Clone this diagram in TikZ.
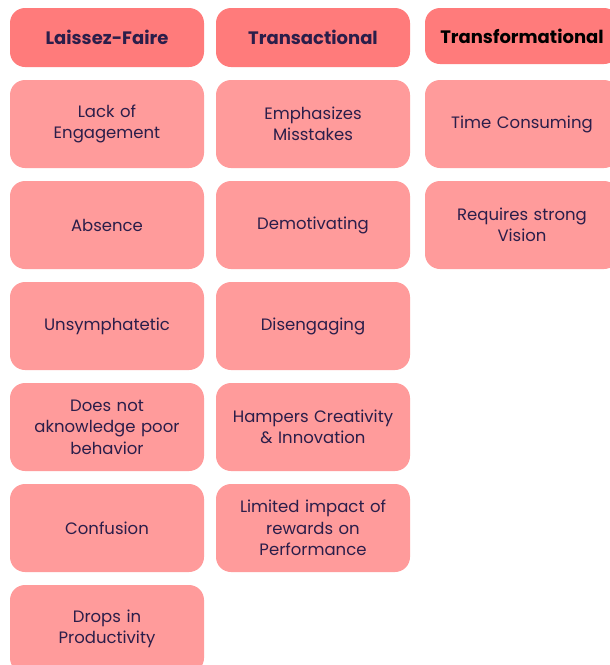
\documentclass[tikz,border=0pt]{standalone}
\usepackage{fontspec}
\setmainfont{Poppins}
\usetikzlibrary{positioning}

\definecolor{headred}{HTML}{FF7B7B}
\definecolor{cellred}{HTML}{FF9B9B}
\definecolor{inkblue}{HTML}{2B1E4A}

\begin{document}
\begin{tikzpicture}[
                node distance = 13pt, % gap between boxes
                semithick
        ]

        \tikzstyle{head}=[
            rectangle,
            rounded corners = 15pt,
            fill = headred,
            outer sep = 0pt,
            minimum width = 194pt,
            minimum height = 59pt,
            text = inkblue,
            font = \fontsize{18}{22}\selectfont\bfseries
        ]
        \tikzstyle{cell}=[
            rectangle,
            rounded corners = 15pt,
            fill = cellred,
            outer sep = 0pt,
            minimum width = 194pt,
            minimum height = 88pt,
            text width = 186pt,
            align = center,
            text = inkblue,
            font = \fontsize{16.5}{21.5}\selectfont
        ]

        \useasboundingbox (0pt,0pt) rectangle (610pt,-665pt);

        \node[head] (LF) at (107pt,-37.5pt) {Laissez-Faire};
        \node[head] (TA) at (313pt,-37.5pt) {Transactional};
        \node[head, text = black, minimum height = 56pt] (TF) at (522pt,-36pt) {Transformational};

        \node[cell] (LF1) [below=of LF] {Lack of\\Engagement};
        \node[cell] (LF2) [below=of LF1] {Absence};
        \node[cell] (LF3) [below=of LF2] {Unsymphatetic};
        \node[cell] (LF4) [below=of LF3] {Does not\\aknowledge poor\\behavior};
        \node[cell] (LF5) [below=of LF4] {Confusion};
        \node[cell] (LF6) [below=of LF5] {Drops in\\Productivity};

        \node[cell] (TA1) [below=of TA] {Emphasizes\\Misstakes};
        \node[cell] (TA2) [below=of TA1] {Demotivating};
        \node[cell] (TA3) [below=of TA2] {Disengaging};
        \node[cell] (TA4) [below=of TA3] {Hampers Creativity\\\& Innovation};
        \node[cell] (TA5) [below=of TA4] {Limited impact of\\rewards on\\Performance};

        \node[cell] (TF1) [below=16pt of TF] {Time Consuming};
        \node[cell] (TF2) [below=of TF1] {Requires strong\\Vision};

\end{tikzpicture}
\end{document}
